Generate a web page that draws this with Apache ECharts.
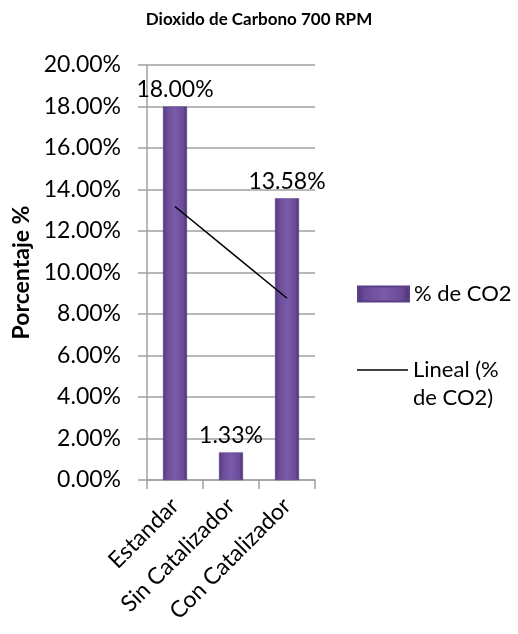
<!DOCTYPE html>
<html>
<head>
<meta charset="utf-8">
<script src="https://cdn.jsdelivr.net/npm/echarts@6/dist/echarts.min.js"></script>
<style>html,body{margin:0;padding:0;background:#fff}#c{width:518px;height:634px}</style>
</head>
<body>
<div id="c"></div>
<script>
const categories = ['Estandar', 'Sin Catalizador', 'Con Catalizador'];
const co2Values = [18.00, 1.33, 13.58];
const trendValues = [13.18, 10.97, 8.76];
const yTicks = { min: 0, max: 20, interval: 2 };
const FONT = 'Lato, "Open Sans", sans-serif';

const chart = echarts.init(document.getElementById('c'));
chart.setOption({
  animation: false,
  backgroundColor: '#ffffff',
  title: {
    text: 'Dioxido de Carbono 700 RPM',
    left: 'center', top: 6,
    textStyle: { fontFamily: FONT, fontSize: 17, fontWeight: 'bold', color: '#000' }
  },
  grid: { left: 147, right: 203, top: 65, bottom: 154, containLabel: false },
  legend: [{
    data: [{ name: '% de CO2', icon: 'rect' }],
    orient: 'vertical', left: 357, top: 283, padding: 0,
    itemWidth: 51, itemHeight: 15,
    textStyle: { fontFamily: FONT, fontSize: 22, color: '#000' }
  }, {
    data: [{ name: 'Lineal (% de CO2)', icon: 'rect', itemStyle: { color: '#000' } }],
    orient: 'vertical', left: 357, top: 359, padding: 0,
    itemWidth: 51, itemHeight: 1.5,
    formatter: function () { return 'Lineal (%'; },
    textStyle: { fontFamily: FONT, fontSize: 22, color: '#000' }
  }],
  graphic: [{
    type: 'text', left: 413, top: 387,
    style: { text: 'de CO2)', font: '22px ' + FONT, fill: '#000' }
  }],
  xAxis: {
    type: 'category',
    data: categories,
    axisLine: { lineStyle: { color: '#a0a0a0', width: 1.5 } },
    axisTick: { show: true, alignWithLabel: false, length: 9, lineStyle: { color: '#a0a0a0', width: 1.5 } },
    axisLabel: { rotate: 45, margin: 22, fontFamily: FONT, fontSize: 23, color: '#000', interval: 0 }
  },
  yAxis: {
    type: 'value',
    min: yTicks.min, max: yTicks.max, interval: yTicks.interval,
    name: 'Porcentaje %',
    nameLocation: 'middle', nameRotate: 90, nameGap: 114,
    nameTextStyle: { fontFamily: FONT, fontSize: 23, fontWeight: 'bold', color: '#000' },
    axisLine: { show: true, lineStyle: { color: '#a0a0a0', width: 1.5 } },
    axisTick: { show: true, length: 9, lineStyle: { color: '#a0a0a0', width: 1.5 } },
    splitLine: { show: true, lineStyle: { color: '#a0a0a0', width: 1.5 } },
    axisLabel: {
      margin: 26, fontFamily: FONT, fontSize: 23, color: '#000',
      formatter: function (v) { return v.toFixed(2) + '%'; }
    }
  },
  series: [{
    name: '% de CO2',
    type: 'bar',
    data: co2Values,
    barWidth: 24,
    itemStyle: {
      color: new echarts.graphic.LinearGradient(0, 0, 1, 0, [
        { offset: 0, color: '#4f3478' },
        { offset: 0.15, color: '#6a4b98' },
        { offset: 0.5, color: '#7a5bab' },
        { offset: 0.85, color: '#6a4b98' },
        { offset: 1, color: '#4a3170' }
      ]),
      borderColor: '#5a3f85', borderWidth: 0.5
    },
    label: {
      show: true, position: 'top', distance: 5,
      fontFamily: FONT, fontSize: 23, color: '#000',
      formatter: function (p) { return p.value.toFixed(2) + '%'; }
    }
  }, {
    name: 'Lineal (% de CO2)',
    type: 'line',
    data: trendValues,
    symbol: 'none',
    lineStyle: { color: '#000', width: 1.5 },
    itemStyle: { color: '#000' },
    z: 5
  }]
});
</script>
</body>
</html>
